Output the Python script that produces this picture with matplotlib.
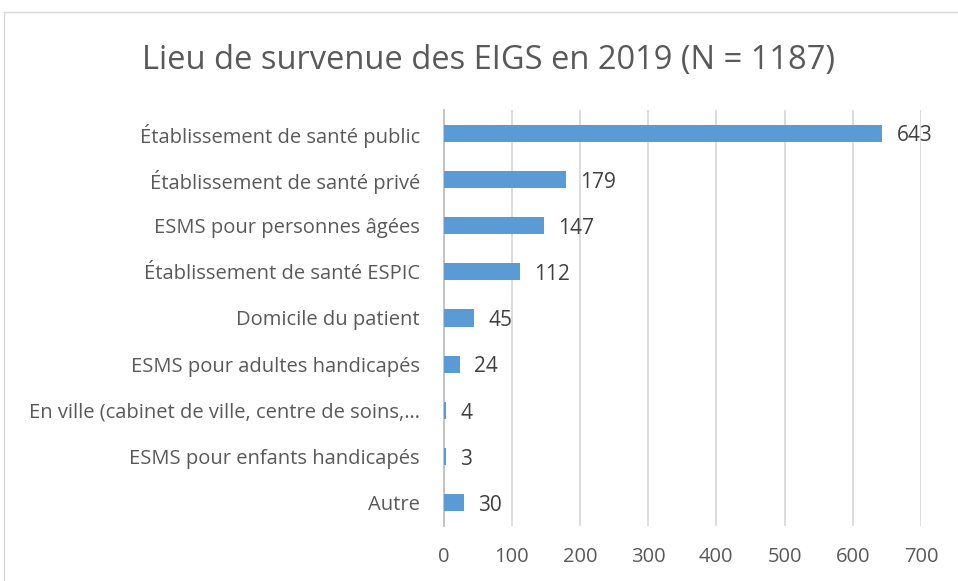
import matplotlib.pyplot as plt
from matplotlib.lines import Line2D

categories = [
    "Établissement de santé public",
    "Établissement de santé privé",
    "ESMS pour personnes âgées",
    "Établissement de santé ESPIC",
    "Domicile du patient",
    "ESMS pour adultes handicapés",
    "En ville (cabinet de ville, centre de soins,…",
    "ESMS pour enfants handicapés",
    "Autre",
]
values = [643, 179, 147, 112, 45, 24, 4, 3, 30]
xticks = [0, 100, 200, 300, 400, 500, 600, 700]

plt.rcParams['font.family'] = ['Open Sans', 'DejaVu Sans']
W, H = 958, 581
fig = plt.figure(figsize=(W / 100, H / 100), dpi=100)
ax = fig.add_axes([443.5 / W, 1 - 526 / H, (921 - 443.5) / W, 416 / H])

text_col = '#595959'
pos = list(range(len(categories)))
ax.barh(pos, values, height=0.37, color='#5B9BD5', zorder=3)
for p, v in zip(pos, values):
    ax.annotate(str(v), (v, p), xytext=(10.5, -2), textcoords='offset points',
                va='center', ha='left', fontsize=15, color='#404040')

ax.set_xlim(0, 700)
ax.set_ylim(len(categories) - 0.5, -0.5)
ax.set_xticks(xticks)
ax.set_yticks(pos)
ax.set_yticklabels(categories, fontsize=14.5, color=text_col)
ax.tick_params(axis='x', labelsize=14.5, labelcolor=text_col, length=0, pad=15)
ax.tick_params(axis='y', length=0, pad=17)
ax.grid(axis='x', color='#D9D9D9', linewidth=1.3, zorder=0)
for s in ['top', 'right', 'bottom']:
    ax.spines[s].set_visible(False)
ax.spines['left'].set_color('#BFBFBF')
ax.spines['left'].set_linewidth(1.3)
ax.spines['left'].set_zorder(2)

fig.text(488 / W, 1 - 60 / H, "Lieu de survenue des EIGS en 2019 (N = 1187)",
         ha='center', va='center', fontsize=23.5, color=text_col)

# chart border (Excel frame)
fig.add_artist(Line2D([4 / W, 4 / W], [0, 1 - 12 / H], transform=fig.transFigure,
                      color='#D9D9D9', linewidth=1))
fig.add_artist(Line2D([4 / W, 1], [1 - 12 / H, 1 - 12 / H], transform=fig.transFigure,
                      color='#D9D9D9', linewidth=1))

fig.savefig('out.png', dpi=100)
